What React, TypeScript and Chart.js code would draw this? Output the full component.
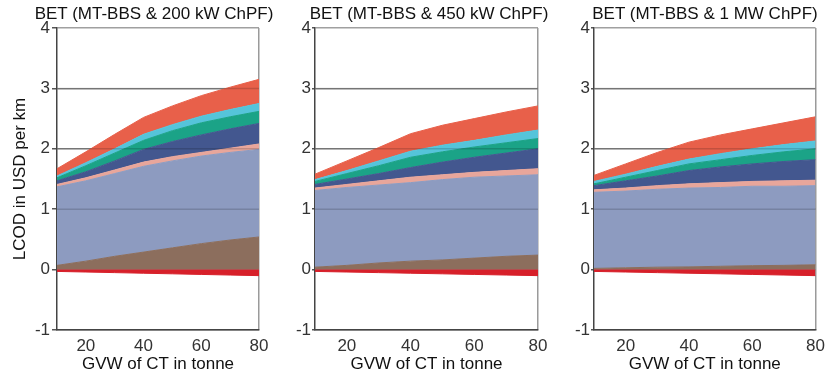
import React, { useEffect, useRef } from 'react';
import { Chart, registerables } from 'chart.js';

Chart.register(...registerables);

// GVW of CT (tonne) sampled along x
const GVW = [10, 20, 30, 40, 50, 60, 70, 80];
const X_TICKS = [20, 40, 60, 80];
const Y_MIN = -1;
const Y_MAX = 4;

const TITLES = [
  'BET (MT-BBS & 200 kW ChPF)',
  'BET (MT-BBS & 450 kW ChPF)',
  'BET (MT-BBS & 1 MW ChPF)',
];
const Y_TITLE = 'LCOD in USD per km';
const X_TITLE = 'GVW of CT in tonne';

// Layer names (bottom to top) and colours
const LAYER_NAMES = ['Negative', 'Brown', 'Lavender', 'Pink', 'Navy', 'Teal', 'Cyan', 'Orange-red'];
const LAYER_COLORS = ['#D7202A', '#8C6E5D', '#8D9BC0', '#E8A69B', '#43578F', '#1BA387', '#55C4DA', '#E8604A'];

// Upper edge (cumulative) of each layer, USD per km — panel 1 (200 kW)
const p1Neg = [-0.03, -0.04, -0.05, -0.06, -0.07, -0.08, -0.09, -0.10];
const p1Brown = [0.07, 0.14, 0.22, 0.29, 0.36, 0.43, 0.49, 0.54];
const p1Lavender = [1.37, 1.47, 1.59, 1.71, 1.80, 1.88, 1.94, 1.99];
const p1Pink = [1.41, 1.52, 1.65, 1.78, 1.87, 1.94, 2.01, 2.08];
const p1Navy = [1.47, 1.62, 1.80, 1.99, 2.12, 2.23, 2.33, 2.42];
const p1Teal = [1.52, 1.72, 1.93, 2.14, 2.30, 2.43, 2.53, 2.62];
const p1Cyan = [1.55, 1.77, 2.00, 2.24, 2.40, 2.54, 2.65, 2.75];
const p1Top = [1.67, 1.95, 2.24, 2.52, 2.71, 2.88, 3.02, 3.15];

// Panel 2 (450 kW)
const p2Neg = [-0.03, -0.04, -0.05, -0.06, -0.07, -0.08, -0.09, -0.10];
const p2Brown = [0.04, 0.07, 0.11, 0.14, 0.16, 0.19, 0.22, 0.24];
const p2Lavender = [1.31, 1.36, 1.40, 1.44, 1.49, 1.53, 1.55, 1.57];
const p2Pink = [1.35, 1.41, 1.47, 1.53, 1.57, 1.61, 1.64, 1.67];
const p2Navy = [1.41, 1.50, 1.59, 1.69, 1.78, 1.86, 1.93, 2.00];
const p2Teal = [1.46, 1.59, 1.72, 1.86, 1.95, 2.03, 2.10, 2.17];
const p2Cyan = [1.49, 1.64, 1.80, 1.96, 2.06, 2.14, 2.23, 2.31];
const p2Top = [1.58, 1.80, 2.02, 2.25, 2.39, 2.50, 2.61, 2.71];

// Panel 3 (1 MW)
const p3Neg = [-0.03, -0.04, -0.05, -0.06, -0.07, -0.08, -0.09, -0.10];
const p3Brown = [0.02, 0.03, 0.04, 0.045, 0.055, 0.065, 0.07, 0.08];
const p3Lavender = [1.28, 1.30, 1.33, 1.35, 1.36, 1.38, 1.38, 1.39];
const p3Pink = [1.32, 1.35, 1.39, 1.42, 1.44, 1.46, 1.47, 1.48];
const p3Navy = [1.39, 1.47, 1.55, 1.64, 1.70, 1.75, 1.79, 1.82];
const p3Teal = [1.42, 1.53, 1.64, 1.75, 1.82, 1.89, 1.95, 2.00];
const p3Cyan = [1.46, 1.58, 1.71, 1.83, 1.92, 2.00, 2.07, 2.13];
const p3Top = [1.56, 1.75, 1.94, 2.11, 2.23, 2.33, 2.43, 2.53];

const PANEL_LAYERS = [
  [p1Neg, p1Brown, p1Lavender, p1Pink, p1Navy, p1Teal, p1Cyan, p1Top],
  [p2Neg, p2Brown, p2Lavender, p2Pink, p2Navy, p2Teal, p2Cyan, p2Top],
  [p3Neg, p3Brown, p3Lavender, p3Pink, p3Navy, p3Teal, p3Cyan, p3Top],
];

const FONT = '"Liberation Sans", Arial, sans-serif';

const gridOnTop = {
  id: 'gridOnTop',
  afterDatasetsDraw(chart: any) {
    const { ctx, chartArea, scales } = chart;
    const y = scales.y;
    ctx.save();
    ctx.strokeStyle = 'rgba(0,0,0,0.16)';
    ctx.lineWidth = 1.5;
    y.ticks.forEach((t: any) => {
      if (t.value > Y_MIN && t.value < Y_MAX && t.value !== 0) {
        const py = y.getPixelForValue(t.value);
        ctx.beginPath();
        ctx.moveTo(chartArea.left, py);
        ctx.lineTo(chartArea.right, py);
        ctx.stroke();
      }
    });
    ctx.restore();
  },
};

type PanelProps = {
  index: number;
  left: number;
  width: number;
  yWidth: number;
  padRight: number;
  showYTitle: boolean;
  tickLen: number;
  tickPad: number;
  titleCenter: number;
};

function Panel({ index, left, width, yWidth, padRight, showYTitle, tickLen, tickPad, titleCenter }: PanelProps) {
  const ref = useRef<HTMLCanvasElement | null>(null);

  useEffect(() => {
    if (!ref.current) return;
    const layers = PANEL_LAYERS[index];
    const datasets = layers.map((vals, i) => ({
      label: LAYER_NAMES[i],
      data: GVW.map((x, k) => ({ x, y: vals[k] })),
      backgroundColor: LAYER_COLORS[i],
      borderColor: LAYER_COLORS[i],
      borderWidth: 1,
      pointRadius: 0,
      tension: 0,
      fill: i <= 1 ? 'origin' : '-1',
    }));

    const chart = new Chart(ref.current, {
      type: 'line',
      data: { datasets },
      plugins: [gridOnTop],
      options: {
        animation: false,
        responsive: false,
        devicePixelRatio: 1,
        layout: { padding: { left: 0, right: padRight, top: 28, bottom: 0 } },
        plugins: {
          legend: { display: false },
          tooltip: { enabled: false },
          title: { display: false },
        },
        scales: {
          x: {
            type: 'linear',
            min: 10,
            max: 80,
            afterBuildTicks: (scale: any) => {
              scale.ticks = X_TICKS.map((v) => ({ value: v }));
            },
            afterFit: (scale: any) => {
              scale.height = 47;
            },
            grid: {
              drawOnChartArea: true,
              drawTicks: false,
              color: (ctx: any) => (ctx.tick && ctx.tick.value === 80 ? '#9a9a9a' : 'rgba(0,0,0,0)'),
              lineWidth: 1.5,
            },
            border: { display: true, color: '#444', width: 1.5 },
            ticks: {
              color: '#333',
              font: { family: FONT, size: 17 },
              padding: 6,
              maxRotation: 0,
            },
            title: {
              display: true,
              text: X_TITLE,
              color: '#111',
              font: { family: FONT, size: 17 },
              padding: { top: 0, bottom: 2 },
            },
          },
          y: {
            type: 'linear',
            min: Y_MIN,
            max: Y_MAX,
            afterFit: (scale: any) => {
              scale.width = yWidth;
            },
            ticks: {
              stepSize: 1,
              color: '#333',
              font: { family: FONT, size: 17 },
              padding: tickPad,
            },
            grid: {
              color: (ctx: any) => (ctx.tick && ctx.tick.value === Y_MAX ? '#a0a0a0' : '#8c8c8c'),
              lineWidth: 1.5,
              drawTicks: true,
              tickLength: tickLen,
              tickColor: '#555',
            },
            border: { display: true, color: '#444', width: 1.5 },
            title: {
              display: showYTitle,
              text: Y_TITLE,
              color: '#111',
              font: { family: FONT, size: 17 },
              padding: { top: 10, bottom: 0 },
            },
          },
        },
      },
    });
    return () => chart.destroy();
  }, [index, yWidth, padRight, showYTitle, tickLen, tickPad]);

  return (
    <>
      <canvas
        ref={ref}
        width={width}
        height={377}
        style={{ position: 'absolute', left, top: 0, width, height: 377 }}
      />
      <div
        style={{
          position: 'absolute',
          left: titleCenter,
          top: 4,
          transform: 'translateX(-50%)',
          whiteSpace: 'nowrap',
          fontFamily: FONT,
          fontSize: 17,
          lineHeight: '20px',
          color: '#111',
        }}
      >
        {TITLES[index]}
      </div>
    </>
  );
}

export default function App() {
  return (
    <div
      style={{
        position: 'fixed',
        left: 0,
        top: 0,
        width: 831,
        height: 377,
        background: '#fff',
        overflow: 'hidden',
      }}
    >
      <Panel index={0} left={0} width={280} yWidth={57} padRight={21} showYTitle={true} tickLen={5} tickPad={2} titleCenter={154} />
      <Panel index={1} left={280} width={275} yWidth={35} padRight={17} showYTitle={false} tickLen={3} tickPad={1} titleCenter={429} />
      <Panel index={2} left={555} width={276} yWidth={39} padRight={14} showYTitle={false} tickLen={3} tickPad={1} titleCenter={705} />
    </div>
  );
}
